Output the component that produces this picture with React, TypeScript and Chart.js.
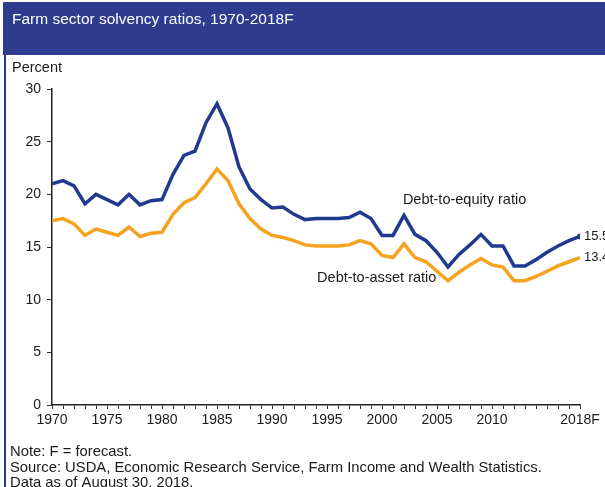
import { useEffect, useRef } from 'react';
import { Chart, registerables } from 'chart.js';

Chart.register(...registerables);

const FONT = '"Liberation Sans", Arial, Helvetica, sans-serif';
const BLUE = '#1f3a8f';
const ORANGE = '#f5a21e';
const BAR = '#2d3c8e';

const years = [
  1970, 1971, 1972, 1973, 1974, 1975, 1976, 1977, 1978, 1979,
  1980, 1981, 1982, 1983, 1984, 1985, 1986, 1987, 1988, 1989,
  1990, 1991, 1992, 1993, 1994, 1995, 1996, 1997, 1998, 1999,
  2000, 2001, 2002, 2003, 2004, 2005, 2006, 2007, 2008, 2009,
  2010, 2011, 2012, 2013, 2014, 2015, 2016, 2017, 2018,
];

const debtToEquity = [
  21.0, 21.3, 20.8, 19.1, 20.0, 19.5, 19.0, 20.0, 19.0, 19.4,
  19.5, 21.9, 23.7, 24.1, 26.8, 28.6, 26.3, 22.6, 20.5, 19.5,
  18.7, 18.8, 18.1, 17.6, 17.7, 17.7, 17.7, 17.8, 18.3, 17.7,
  16.1, 16.1, 18.0, 16.2, 15.6, 14.5, 13.1, 14.3, 15.2, 16.2,
  15.1, 15.1, 13.2, 13.2, 13.8, 14.5, 15.1, 15.6, 16.0,
];

const debtToAsset = [
  17.5, 17.7, 17.2, 16.1, 16.7, 16.4, 16.1, 16.9, 16.0, 16.3,
  16.4, 18.1, 19.2, 19.7, 21.0, 22.4, 21.3, 19.1, 17.7, 16.7,
  16.1, 15.9, 15.6, 15.2, 15.1, 15.1, 15.1, 15.2, 15.6, 15.3,
  14.2, 14.0, 15.3, 14.0, 13.6, 12.7, 11.8, 12.6, 13.3, 13.9,
  13.3, 13.1, 11.8, 11.8, 12.2, 12.7, 13.2, 13.6, 14.0,
];

const xLabelYears = [1970, 1975, 1980, 1985, 1990, 1995, 2000, 2005, 2010, 2018];
const xLabelTexts = ['1970', '1975', '1980', '1985', '1990', '1995', '2000', '2005', '2010', '2018F'];
const yTicks = [0, 5, 10, 15, 20, 25, 30];

const endLabels = ['15.5', '13.4'];
const seriesNames = ['Debt-to-equity ratio', 'Debt-to-asset ratio'];
// annotation anchors in data units: [year, value]
const nameAnchors = [
  [2001.9, 19.5],
  [1994.1, 12.05],
];

const titleText = 'Farm sector solvency ratios, 1970-2018F';
const yAxisTitle = 'Percent';
const notes = [
  'Note: F = forecast.',
  'Source: USDA, Economic Research Service, Farm Income and Wealth Statistics.',
  'Data as of August 30, 2018.',
];

const decor = {
  id: 'decor',
  beforeDraw(chart: any) {
    const ctx = chart.ctx;
    ctx.save();
    ctx.fillStyle = '#ffffff';
    ctx.fillRect(0, 0, chart.width, chart.height);
    ctx.fillStyle = BAR;
    ctx.fillRect(3, 2, chart.width - 3, 53);
    ctx.fillRect(4, 55, 2, chart.height - 55);
    ctx.restore();
  },
  afterDraw(chart: any) {
    const ctx = chart.ctx;
    const xs = chart.scales.x;
    const ys = chart.scales.y;
    ctx.save();
    ctx.textBaseline = 'middle';
    ctx.textAlign = 'left';
    ctx.fillStyle = '#ffffff';
    ctx.font = `15.5px ${FONT}`;
    ctx.fillText(titleText, 12, 20);

    ctx.fillStyle = '#1a1a1a';
    ctx.font = `14.5px ${FONT}`;
    ctx.fillText(yAxisTitle, 12, 68);

    ctx.font = `14.8px ${FONT}`;
    notes.forEach((t, i) => ctx.fillText(t, 10, 452 + i * 15.5));

    ctx.font = `14.5px ${FONT}`;
    nameAnchors.forEach((a, i) => {
      ctx.fillText(seriesNames[i], xs.getPixelForValue(a[0]), ys.getPixelForValue(a[1]));
    });

    const last = years.length - 1;
    const lastX = xs.getPixelForValue(years[last]);
    ctx.font = `13px ${FONT}`;
    ctx.fillText(endLabels[0], lastX + 4, ys.getPixelForValue(debtToEquity[last]));
    ctx.fillText(endLabels[1], lastX + 4, ys.getPixelForValue(debtToAsset[last]));
    ctx.restore();
  },
};

export default function App() {
  const ref = useRef<HTMLCanvasElement>(null);
  useEffect(() => {
    document.body.style.margin = '0';
    const last = years.length - 1;
    const chart = new Chart(ref.current!, {
      type: 'line',
      data: {
        datasets: [
          {
            label: seriesNames[0],
            data: years.map((y, i) => ({ x: y, y: debtToEquity[i] })),
            borderColor: BLUE,
            backgroundColor: BLUE,
            borderWidth: 3.5,
            pointRadius: (c: any) => (c.dataIndex === last ? 3 : 0),
            pointBorderWidth: 0,
            tension: 0,
          },
          {
            label: seriesNames[1],
            data: years.map((y, i) => ({ x: y, y: debtToAsset[i] })),
            borderColor: ORANGE,
            backgroundColor: ORANGE,
            borderWidth: 3.5,
            pointRadius: 0,
            tension: 0,
          },
        ],
      },
      options: {
        responsive: false,
        animation: false,
        layout: { padding: { top: 89, right: 25, left: 0, bottom: 0 } },
        plugins: { legend: { display: false }, tooltip: { enabled: false } },
        scales: {
          x: {
            type: 'linear',
            min: 1970,
            max: 2018,
            afterBuildTicks: (s: any) => {
              s.ticks = years.map((v) => ({ value: v }));
            },
            afterFit: (s: any) => {
              s.height = 82;
            },
            ticks: {
              autoSkip: false,
              maxRotation: 0,
              padding: 3,
              color: '#1a1a1a',
              font: { family: FONT, size: 14 },
              callback: (v: any) => {
                const i = xLabelYears.indexOf(Number(v));
                return i >= 0 ? xLabelTexts[i] : '';
              },
            },
            grid: { drawOnChartArea: false, color: '#333', tickLength: 4, lineWidth: 1 },
            border: { color: '#222', width: 1.5 },
          },
          y: {
            min: 0,
            max: 30,
            afterBuildTicks: (s: any) => {
              s.ticks = yTicks.map((v) => ({ value: v }));
            },
            afterFit: (s: any) => {
              s.width = 52;
            },
            ticks: {
              padding: 6,
              color: '#1a1a1a',
              font: { family: FONT, size: 14 },
            },
            grid: { drawOnChartArea: false, color: '#333', tickLength: 5, lineWidth: 1 },
            border: { color: '#222', width: 1.5 },
          },
        },
      },
      plugins: [decor],
    } as any);
    return () => chart.destroy();
  }, []);
  return <canvas ref={ref} width={605} height={487} style={{ display: 'block' }} />;
}
